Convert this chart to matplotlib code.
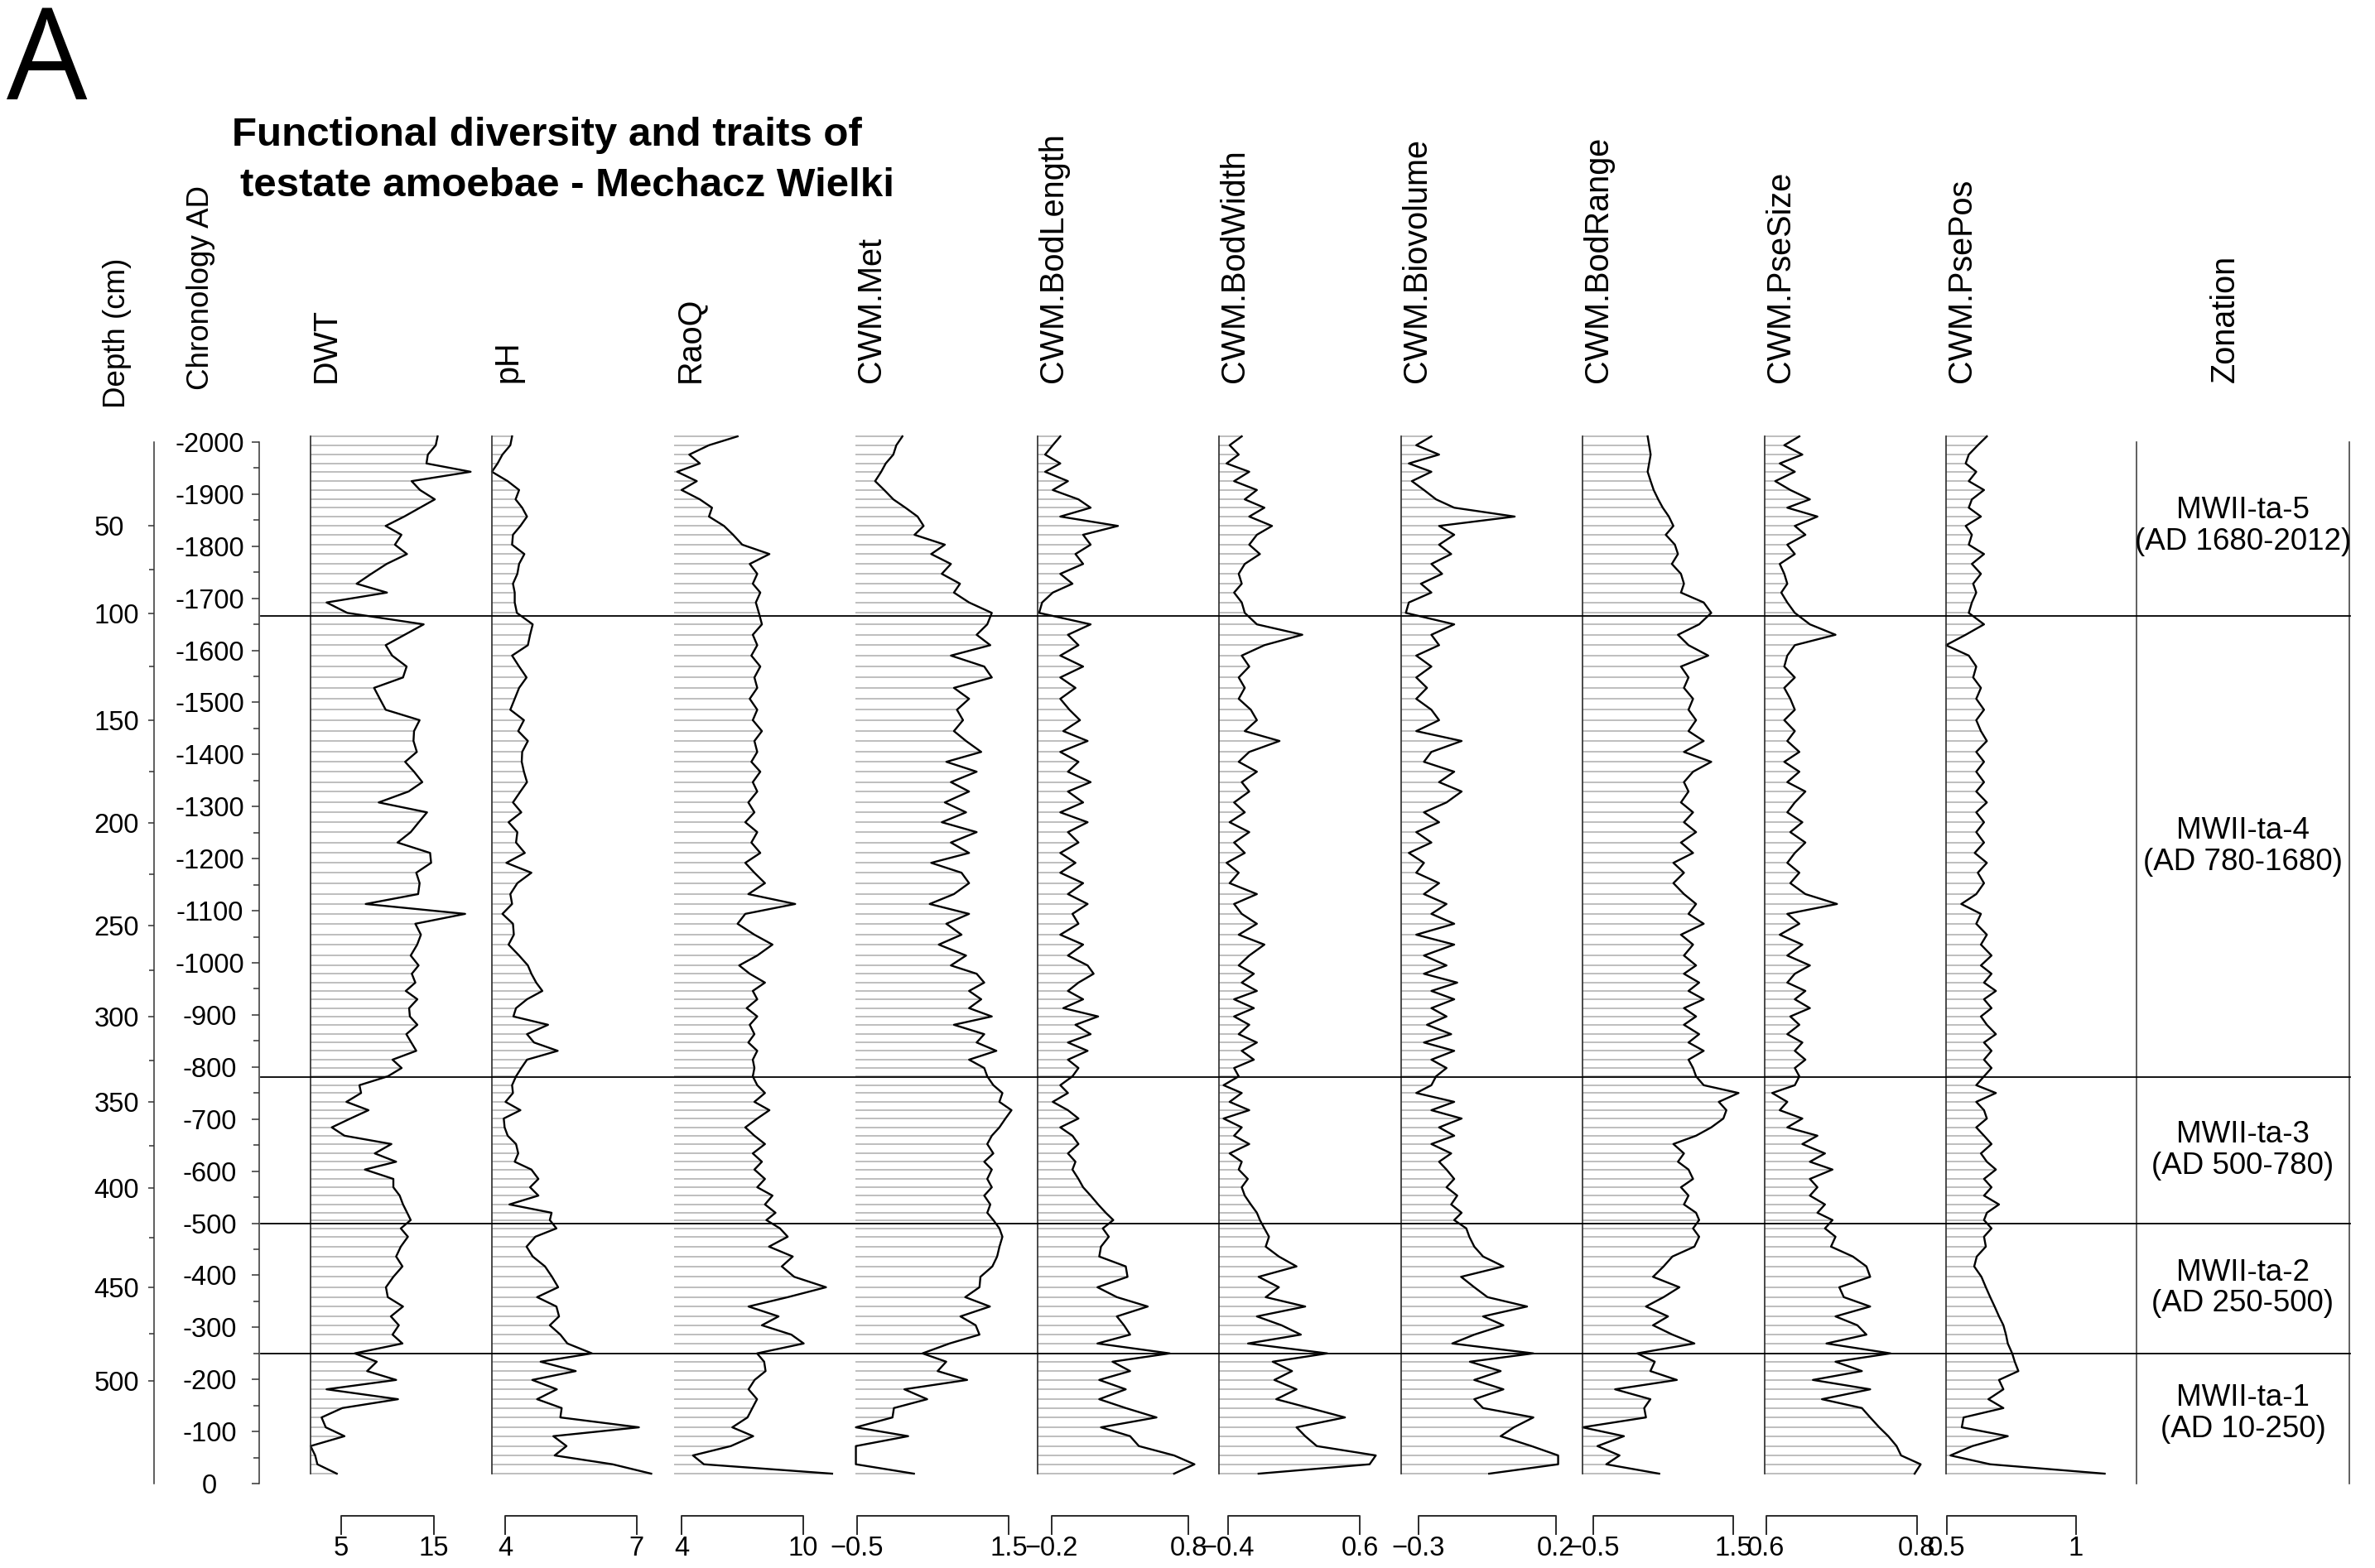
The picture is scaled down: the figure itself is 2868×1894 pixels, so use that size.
import matplotlib as mpl
import matplotlib.pyplot as plt
import matplotlib.transforms as mtransforms
from matplotlib.ticker import MultipleLocator, FixedLocator

plt.rcParams['font.family'] = ['Liberation Sans', 'DejaVu Sans']

# sample ages (negative = AD, as on the chronology axis)
age = [-2011, -1994, -1976, -1959, -1943, -1925, -1908, -1890, -1874, -1857,
       -1839, -1822, -1803, -1785, -1766, -1747, -1728, -1711, -1692, -1672,
       -1650, -1630, -1610, -1590, -1569, -1548, -1528, -1507, -1486, -1466,
       -1445, -1426, -1405, -1386, -1367, -1347, -1329, -1308, -1289, -1270,
       -1251, -1231, -1211, -1192, -1173, -1153, -1132, -1113, -1094, -1075,
       -1054, -1035, -1014, -995, -979, -962, -946, -930, -913, -897,
       -881, -863, -847, -831, -814, -798, -782, -765, -750, -733,
       -717, -701, -684, -668, -652, -634, -618, -603, -585, -569,
       -553, -536, -520, -506, -490, -474, -455, -436, -417, -397,
       -377, -358, -340, -321, -304, -286, -269, -250, -234, -216,
       -199, -181, -162, -145, -127, -108, -91, -72, -54, -37, -19]

dwt = [15.4, 15.2, 14.35, 14.2, 18.96, 12.6, 13.5, 15.1, 13.5, 11.8,
       9.8, 11.5, 10.8, 12.1, 9.9, 8.25, 6.67, 9.94, 3.43, 5.66,
       13.9, 11.85, 9.8, 10.5, 12.06, 11.67, 8.55, 9.17, 9.8, 13.46,
       12.86, 12.8, 13.16, 11.9, 12.86, 13.75, 12.27, 9.05, 14.26, 13.37,
       12.5, 11.08, 14.59, 14.7, 13.1, 13.46, 13.3, 7.65, 18.37, 13.0,
       13.6, 13.2, 12.5, 13.35, 12.62, 13.0, 11.97, 13.22, 12.33, 12.41,
       13.22, 12.03, 12.56, 13.1, 10.54, 11.52, 10.03, 6.97, 7.15, 5.57,
       7.95, 6.0, 3.99, 5.36, 10.42, 8.63, 10.93, 7.56, 10.63, 10.63,
       11.31, 11.67, 12.12, 12.5, 11.43, 12.2, 11.43, 10.93, 11.61, 10.63,
       9.83, 10.03, 11.67, 10.36, 11.22, 10.54, 11.61, 6.46, 8.84, 7.8,
       10.93, 3.43, 11.13, 5.12, 2.89, 3.34, 5.36, 1.7, 2.2, 2.44, 4.53]

ph = [4.16, 4.12, 3.94, 3.83, 3.70, 4.06, 4.32, 4.24, 4.39, 4.5,
      4.35, 4.18, 4.16, 4.44, 4.32, 4.28, 4.18, 4.22, 4.22, 4.27,
      4.63, 4.57, 4.52, 4.16, 4.32, 4.49, 4.32, 4.22, 4.12, 4.43,
      4.3, 4.52, 4.39, 4.38, 4.43, 4.5, 4.35, 4.18, 4.37, 4.08,
      4.28, 4.25, 4.45, 4.03, 4.6, 4.28, 4.12, 4.16, 3.94, 4.18,
      4.2, 4.08, 4.32, 4.52, 4.6, 4.71, 4.85, 4.5, 4.25, 4.19,
      4.98, 4.5, 4.66, 5.2, 4.5, 4.37, 4.25, 4.16, 4.18, 4.01,
      4.35, 3.97, 3.99, 4.06, 4.25, 4.3, 4.22, 4.6, 4.76, 4.57,
      4.76, 4.1, 5.06, 5.02, 5.17, 4.69, 4.49, 4.63, 4.91, 5.07,
      5.21, 4.73, 5.17, 5.23, 5.02, 5.26, 5.42, 5.98, 4.81, 5.61,
      4.62, 5.18, 4.73, 5.29, 5.26, 7.05, 5.1, 5.4, 5.13, 6.45, 7.33]

raoq = [6.76, 5.35, 4.38, 4.9, 3.78, 4.75, 4.0, 4.9, 5.5, 5.35,
        6.09, 6.54, 6.99, 8.33, 7.36, 7.73, 7.51, 7.88, 7.66, 7.81,
        7.96, 7.51, 7.73, 7.44, 7.88, 7.59, 7.73, 7.36, 7.73, 7.51,
        7.96, 7.59, 7.73, 7.44, 7.88, 7.51, 7.73, 7.29, 7.59, 7.14,
        7.73, 7.44, 7.88, 7.14, 7.59, 8.11, 7.29, 9.6, 7.14, 6.76,
        7.59, 8.48, 7.73, 6.84, 7.36, 8.11, 7.51, 7.73, 7.21, 7.73,
        7.36, 7.59, 7.29, 7.73, 7.51, 7.59, 7.51, 7.73, 8.11, 7.59,
        8.33, 7.73, 7.14, 7.59, 8.11, 7.51, 7.96, 7.59, 8.11, 7.73,
        8.48, 8.11, 8.63, 8.18, 8.85, 9.23, 8.31, 9.48, 8.94, 9.55,
        11.12, 9.24, 7.3, 8.78, 7.96, 9.41, 10.02, 7.72, 8.07, 8.14,
        7.6, 7.3, 7.72, 7.49, 7.25, 6.5, 7.53, 6.43, 4.56, 5.1, 11.42]

cwm_met = [0.1, 0.02, -0.02, -0.12, -0.18, -0.26, -0.14, -0.02, 0.14, 0.3,
           0.38, 0.26, 0.66, 0.48, 0.74, 0.62, 0.86, 0.78, 0.98, 1.28,
           1.22, 1.08, 1.26, 0.74, 1.18, 1.28, 0.78, 0.98, 0.82, 0.9,
           0.78, 0.94, 1.14, 0.68, 1.08, 0.74, 0.98, 0.66, 0.94, 0.62,
           1.08, 0.74, 0.98, 0.48, 0.88, 0.98, 0.78, 0.46, 0.98, 0.68,
           0.88, 0.58, 0.94, 0.74, 1.08, 1.18, 0.98, 1.14, 0.98, 1.28,
           0.78, 1.18, 1.08, 1.34, 0.98, 1.18, 1.22, 1.3, 1.42, 1.38,
           1.54, 1.46, 1.38, 1.28, 1.22, 1.3, 1.18, 1.28, 1.22, 1.28,
           1.18, 1.26, 1.22, 1.3, 1.38, 1.42, 1.381, 1.35, 1.287, 1.13,
           1.117, 0.929, 1.255, 0.866, 1.067, 1.117, 0.722, 0.365, 0.678, 0.565,
           0.954, 0.126, 0.427, -0.012, -0.031, -0.514, 0.176, -0.514, -0.514, -0.514, 0.252]

cwm_bodlength = [-0.137, -0.192, -0.248, -0.137, -0.248, -0.081, -0.192, -0.004, 0.085, -0.137,
                 0.285, 0.03, 0.085, -0.026, 0.03, -0.137, -0.048, -0.192, -0.27, -0.292,
                 0.085, -0.081, -0.004, -0.137, 0.03, -0.137, -0.026, -0.137, -0.07, 0.007,
                 -0.115, 0.063, -0.137, -0.004, -0.081, 0.085, -0.081, 0.03, -0.137, 0.063,
                 -0.081, -0.004, -0.137, -0.026, -0.137, 0.03, -0.081, 0.063, -0.048, -0.004,
                 -0.137, 0.03, -0.081, 0.063, 0.107, -0.004, -0.081, 0.03, -0.115, 0.14,
                 -0.026, 0.085, -0.081, 0.063, -0.081, -0.004, -0.048, -0.137, -0.081, -0.192,
                 -0.081, -0.004, -0.137, -0.048, -0.004, -0.081, -0.026, -0.048, -0.004, 0.03,
                 0.085, 0.14, 0.196, 0.251, 0.174, 0.218, 0.161, 0.148, 0.342, 0.355,
                 0.135, 0.277, 0.503, 0.277, 0.329, 0.374, 0.135, 0.664, 0.245, 0.374,
                 0.148, 0.342, 0.148, 0.342, 0.567, 0.161, 0.374, 0.438, 0.696, 0.845, 0.696]

cwm_bodwidth = [-0.296, -0.388, -0.319, -0.411, -0.239, -0.354, -0.181, -0.273, -0.124, -0.239,
                -0.066, -0.181, -0.239, -0.158, -0.273, -0.319, -0.296, -0.354, -0.296, -0.273,
                -0.181, 0.164, -0.124, -0.296, -0.239, -0.319, -0.273, -0.319, -0.227, -0.181,
                -0.273, -0.009, -0.239, -0.319, -0.181, -0.296, -0.239, -0.354, -0.273, -0.388,
                -0.239, -0.354, -0.273, -0.411, -0.319, -0.388, -0.181, -0.354, -0.296, -0.181,
                -0.319, -0.124, -0.239, -0.319, -0.204, -0.296, -0.181, -0.354, -0.204, -0.354,
                -0.239, -0.319, -0.181, -0.296, -0.204, -0.354, -0.319, -0.434, -0.296, -0.388,
                -0.239, -0.434, -0.296, -0.354, -0.239, -0.388, -0.296, -0.319, -0.25, -0.296,
                -0.273, -0.227, -0.181, -0.158, -0.124, -0.089, -0.114, -0.014, 0.12, -0.168,
                -0.014, -0.114, 0.186, -0.181, 0.006, 0.153, -0.248, 0.354, -0.061, 0.086,
                -0.048, 0.12, -0.034, 0.22, 0.488, 0.12, 0.186, 0.274, 0.722, 0.675, -0.168]

cwm_biovolume = [-0.253, -0.308, -0.225, -0.335, -0.253, -0.324, -0.28, -0.236, -0.17, 0.05,
                 -0.225, -0.17, -0.225, -0.181, -0.253, -0.214, -0.291, -0.253, -0.335, -0.346,
                 -0.17, -0.253, -0.225, -0.308, -0.253, -0.308, -0.269, -0.308, -0.253, -0.225,
                 -0.308, -0.143, -0.253, -0.28, -0.17, -0.225, -0.143, -0.198, -0.28, -0.225,
                 -0.308, -0.253, -0.335, -0.28, -0.308, -0.225, -0.28, -0.198, -0.253, -0.17,
                 -0.308, -0.17, -0.28, -0.198, -0.28, -0.159, -0.253, -0.17, -0.253, -0.198,
                 -0.269, -0.181, -0.28, -0.17, -0.253, -0.198, -0.236, -0.253, -0.308, -0.17,
                 -0.253, -0.143, -0.225, -0.17, -0.253, -0.181, -0.225, -0.198, -0.17, -0.198,
                 -0.159, -0.181, -0.143, -0.17, -0.126, -0.115, -0.097, -0.065, 0.009, -0.145,
                 -0.097, -0.049, 0.095, -0.065, 0.009, -0.097, -0.177, 0.118, -0.113, -0.001,
                 -0.097, 0.009, -0.097, -0.065, 0.118, 0.047, -0.001, 0.111, 0.208, 0.208, -0.043]

cwm_bodrange = [0.277, 0.298, 0.32, 0.298, 0.277, 0.32, 0.363, 0.428, 0.493, 0.58,
                0.645, 0.536, 0.666, 0.71, 0.623, 0.753, 0.796, 0.753, 1.078, 1.186,
                1.013, 0.71, 0.861, 1.143, 0.753, 0.861, 0.796, 0.926, 0.861, 0.969,
                0.861, 1.078, 0.796, 1.186, 0.926, 0.796, 0.861, 0.753, 0.926, 0.796,
                0.969, 0.753, 0.926, 0.645, 0.796, 0.645, 0.796, 0.969, 0.861, 1.078,
                0.753, 0.926, 0.796, 0.969, 0.796, 1.013, 0.861, 1.078, 0.796, 0.969,
                0.796, 1.013, 0.861, 1.078, 0.861, 0.926, 0.969, 1.078, 1.576, 1.294,
                1.402, 1.359, 1.186, 0.969, 0.645, 0.796, 0.71, 0.861, 0.926, 0.753,
                0.861, 0.796, 0.969, 1.013, 0.926, 1.013, 0.945, 0.631, 0.505, 0.354,
                0.731, 0.505, 0.253, 0.568, 0.354, 0.631, 0.945, 0.127, 0.379, 0.316,
                0.694, -0.188, 0.316, 0.228, 0.253, -0.654, -0.062, -0.44, -0.125, -0.314, 0.442]

cwm_psesize = [0.644, 0.624, 0.648, 0.618, 0.638, 0.612, 0.632, 0.658, 0.628, 0.668,
               0.638, 0.652, 0.628, 0.638, 0.618, 0.624, 0.628, 0.62, 0.628, 0.638,
               0.658, 0.692, 0.638, 0.628, 0.624, 0.638, 0.624, 0.632, 0.638, 0.624,
               0.638, 0.628, 0.644, 0.624, 0.644, 0.628, 0.652, 0.638, 0.628, 0.648,
               0.632, 0.652, 0.638, 0.628, 0.644, 0.632, 0.652, 0.694, 0.628, 0.644,
               0.618, 0.648, 0.628, 0.658, 0.638, 0.628, 0.652, 0.638, 0.658, 0.632,
               0.644, 0.628, 0.648, 0.638, 0.652, 0.638, 0.644, 0.638, 0.608, 0.628,
               0.618, 0.648, 0.628, 0.668, 0.648, 0.678, 0.658, 0.688, 0.658, 0.668,
               0.658, 0.678, 0.668, 0.688, 0.678, 0.692, 0.686, 0.715, 0.733, 0.738,
               0.697, 0.703, 0.738, 0.692, 0.721, 0.733, 0.68, 0.765, 0.692, 0.727,
               0.662, 0.738, 0.674, 0.727, 0.738, 0.75, 0.762, 0.773, 0.779, 0.805, 0.797]

cwm_psepos = [0.655, 0.62, 0.585, 0.573, 0.614, 0.585, 0.644, 0.597, 0.585, 0.632,
              0.573, 0.597, 0.585, 0.644, 0.597, 0.632, 0.602, 0.614, 0.597, 0.585,
              0.644, 0.573, 0.497, 0.585, 0.614, 0.602, 0.632, 0.614, 0.644, 0.614,
              0.632, 0.655, 0.614, 0.644, 0.614, 0.644, 0.614, 0.655, 0.614, 0.644,
              0.614, 0.644, 0.608, 0.655, 0.62, 0.644, 0.614, 0.556, 0.632, 0.614,
              0.655, 0.632, 0.673, 0.632, 0.673, 0.644, 0.69, 0.644, 0.673, 0.632,
              0.655, 0.69, 0.644, 0.673, 0.644, 0.673, 0.644, 0.614, 0.69, 0.614,
              0.644, 0.655, 0.614, 0.644, 0.673, 0.632, 0.655, 0.69, 0.644, 0.673,
              0.644, 0.702, 0.655, 0.644, 0.673, 0.644, 0.651, 0.616, 0.606, 0.634,
              0.651, 0.668, 0.685, 0.702, 0.719, 0.729, 0.736, 0.753, 0.763, 0.777,
              0.702, 0.719, 0.661, 0.719, 0.565, 0.558, 0.736, 0.599, 0.514, 0.668, 1.111]

# depth axis: depth marks and the age they sit at
depth_major = [50, 100, 150, 200, 250, 300, 350, 400, 450, 500]
depth_major_age = [-1839, -1671, -1466, -1269, -1072, -897, -733, -568, -377, -197]
depth_minor_age = [-1755, -1569, -1367, -1170, -986, -812, -649, -472, -288]

zone_bounds = [-1666, -780, -500, -250]
zone_labels = ['MWII-ta-5\n(AD 1680-2012)', 'MWII-ta-4\n(AD 780-1680)',
               'MWII-ta-3\n(AD 500-780)', 'MWII-ta-2\n(AD 250-500)',
               'MWII-ta-1\n(AD 10-250)']

# name, values, left edge (px), value at left edge, px per unit, scale bar ticks, draw edge
panels = [
    ('DWT', dwt, 375, 1.70, 11.2, (5, 15), True),
    ('pH', ph, 594, 3.70, 53.0, (4, 7), True),
    ('RaoQ', raoq, 814, 3.63, 24.5, (4, 10), False),
    ('CWM.Met', cwm_met, 1033, -0.52, 91.5, (-0.5, 1.5), False),
    ('CWM.BodLength', cwm_bodlength, 1253, -0.303, 165.0, (-0.2, 0.8), True),
    ('CWM.BodWidth', cwm_bodwidth, 1472, -0.469, 159.0, (-0.4, 0.6), True),
    ('CWM.Biovolume', cwm_biovolume, 1692, -0.363, 332.0, (-0.3, 0.2), True),
    ('CWM.BodRange', cwm_bodrange, 1911, -0.654, 84.5, (-0.5, 1.5), True),
    ('CWM.PseSize', cwm_psesize, 2131, 0.598, 910.0, (0.6, 0.8), True),
    ('CWM.PsePos', cwm_psepos, 2350, 0.497, 312.0, (0.5, 1), True),
]

W, H = 2868, 1894
TOP, BOT = 534, 1792          # pixel rows of -2000 and 0


def rect(x0, x1):
    return [x0 / W, 1 - BOT / H, (x1 - x0) / W, (BOT - TOP) / H]


def fy(p):
    return 1 - p / H


def fmt(v):
    s = ('%g' % abs(v))
    return ('\u2212' + s) if v < 0 else s


fig = plt.figure(figsize=(W / 100, H / 100), dpi=100)

# chronology axis
cax = fig.add_axes(rect(313, 314))
cax.set_ylim(0, -2000)
cax.set_xticks([])
for s in ['top', 'right', 'bottom']:
    cax.spines[s].set_visible(False)
cax.spines['left'].set_linewidth(1.1)
cax.spines['left'].set_color('#333333')
chron = list(range(-2000, 1, 100))
cax.set_yticks(chron)
cax.set_yticklabels([str(c) for c in chron])
cax.yaxis.set_minor_locator(MultipleLocator(50))
cax.tick_params(axis='y', which='major', length=6.5, width=1.1, color='#333333',
                pad=36.5, labelsize=23.5)
cax.tick_params(axis='y', which='minor', length=5, width=1.1, color='#333333')
for lab in cax.get_yticklabels():
    lab.set_ha('center')

# depth axis
dax = fig.add_axes(rect(186, 187))
dax.set_ylim(0, -2000)
dax.set_xticks([])
for s in ['top', 'right', 'bottom']:
    dax.spines[s].set_visible(False)
dax.spines['left'].set_linewidth(1.1)
dax.spines['left'].set_color('#333333')
dax.set_yticks(depth_major_age)
dax.set_yticklabels([str(d) for d in depth_major])
dax.yaxis.set_minor_locator(FixedLocator(depth_minor_age))
dax.tick_params(axis='y', which='major', length=5.3, width=1.1, color='#333333',
                pad=47, labelsize=23.5)
dax.tick_params(axis='y', which='minor', length=4.3, width=1.1, color='#333333')
for lab in dax.get_yticklabels():
    lab.set_ha('left')

# stratigraphic panels
for name, vals, x0, lo, scale, bar, edge in panels:
    ax = fig.add_axes(rect(x0, x0 + 200))
    ax.set_xlim(lo, lo + 200 / scale)
    ax.set_ylim(0, -2000)
    ax.axis('off')
    ax.hlines(age, lo, vals, color='#b3b3b3', lw=1.2, clip_on=False)
    ax.plot(vals, age, color='black', lw=1.7, clip_on=False)
    if edge:
        ax.plot([lo, lo], [age[0], age[-1]], color='#3a3a3a', lw=1.3, clip_on=False)
    fig.text(x0 / W, fy(462), name, rotation=90, ha='left', va='bottom', fontsize=28.5)
    tr = mtransforms.blended_transform_factory(ax.transData, fig.transFigure)
    a, b = bar
    ax.plot([a, a, b, b], [fy(1853), fy(1831), fy(1831), fy(1853)], transform=tr,
            color='#2b2b2b', lw=1.4, clip_on=False)
    for v in bar:
        ax.text(v, fy(1870), fmt(v), transform=tr, ha='center', va='center', fontsize=23.5)

# zonation column
zax = fig.add_axes(rect(2580, 2837))
zax.set_ylim(0, -2000)
zax.set_xticks([])
zax.set_yticks([])
zax.spines['top'].set_visible(False)
zax.spines['bottom'].set_visible(False)
for s in ['left', 'right']:
    zax.spines[s].set_color('#444444')
    zax.spines[s].set_linewidth(1.2)
edges = [age[0]] + zone_bounds + [age[-1]]
ztr = mtransforms.blended_transform_factory(zax.transAxes, zax.transData)
for i, lab in enumerate(zone_labels):
    mid = (edges[i] + edges[i + 1]) / 2
    zax.text(0.5, mid, lab, transform=ztr, ha='center', va='center',
             fontsize=26.5, linespacing=1.1)

ltr = mtransforms.blended_transform_factory(fig.transFigure, cax.transData)
for b in zone_bounds:
    fig.add_artist(mpl.lines.Line2D([315 / W, 2838 / W], [b, b], transform=ltr,
                                    color='black', lw=1.3))

fig.text(124 / W, fy(493), 'Depth (cm)', rotation=90, ha='left', va='bottom', fontsize=26.5)
fig.text(225 / W, fy(471), 'Chronology AD', rotation=90, ha='left', va='bottom', fontsize=26.5)
fig.text(2668 / W, fy(462), 'Zonation', rotation=90, ha='left', va='bottom', fontsize=28.5)

fig.text(660 / W, fy(176), 'Functional diversity and traits of', ha='center',
         va='baseline', fontsize=35.5, fontweight='bold')
fig.text(685 / W, fy(237), 'testate amoebae - Mechacz Wielki', ha='center',
         va='baseline', fontsize=35.5, fontweight='bold')
fig.text(8 / W, fy(120), 'A', ha='left', va='baseline', fontsize=111,
         family=['Open Sans', 'Liberation Sans'])

fig.savefig('out.png', dpi=100)
